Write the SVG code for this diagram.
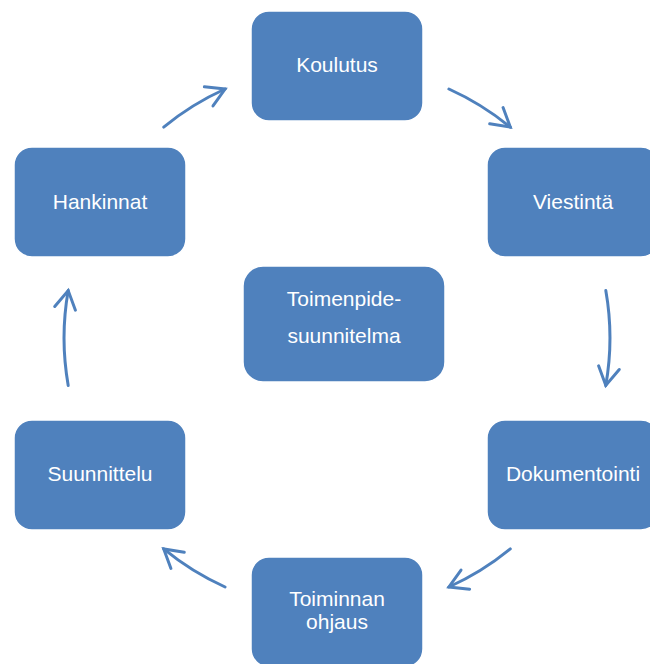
<svg xmlns="http://www.w3.org/2000/svg" width="650" height="664" viewBox="0 0 650 664">
  <style>
    .box { fill: #4F81BD; stroke: #ffffff; stroke-width: 1.5; }
    .label { font-family: "Liberation Sans", Arial, sans-serif; font-size: 21px; fill: #ffffff; text-anchor: middle; }
    .link { fill: none; stroke: #4F81BD; stroke-width: 3; stroke-linecap: round; }
  </style>
  <defs>
    <marker id="vhead" markerUnits="userSpaceOnUse" markerWidth="30" markerHeight="30" viewBox="-25 -15 30 30" refX="0" refY="0" orient="auto">
      <path d="M-18,-10.5 L0,0 L-18,10.5" fill="none" stroke="#4F81BD" stroke-width="3" stroke-linecap="round" stroke-linejoin="miter"/>
    </marker>
  </defs>

  <rect width="650" height="664" fill="#ffffff"/>

  <!-- cycle connectors: clockwise arcs on a circle (center 337,338; r 273) -->
  <g id="connectors">
    <path class="link" marker-end="url(#vhead)" d="M163.7,127.1 A273,273 0 0 1 225.1,89.0"/>
    <path class="link" marker-end="url(#vhead)" d="M448.9,89.0 A273,273 0 0 1 510.3,127.1"/>
    <path class="link" marker-end="url(#vhead)" d="M605.8,290.6 A273,273 0 0 1 605.8,385.4"/>
    <path class="link" marker-end="url(#vhead)" d="M510.3,548.9 A273,273 0 0 1 448.9,587.0"/>
    <path class="link" marker-end="url(#vhead)" d="M225.1,587.0 A273,273 0 0 1 163.7,548.9"/>
    <path class="link" marker-end="url(#vhead)" d="M68.2,385.4 A273,273 0 0 1 68.2,290.6"/>
  </g>

  <g id="koulutus">
    <rect class="box" x="251" y="11" width="172" height="110" rx="18"/>
    <text class="label" x="337" y="72">Koulutus</text>
  </g>
  <g id="viestinta">
    <rect class="box" x="487" y="147" width="172" height="110" rx="18"/>
    <text class="label" x="573" y="209">Viestintä</text>
  </g>
  <g id="dokumentointi">
    <rect class="box" x="487" y="420" width="172" height="110" rx="18"/>
    <text class="label" x="573" y="481">Dokumentointi</text>
  </g>
  <g id="toiminnan-ohjaus">
    <rect class="box" x="251" y="557" width="172" height="110" rx="18"/>
    <text class="label" x="337" y="606">Toiminnan</text>
    <text class="label" x="337" y="629">ohjaus</text>
  </g>
  <g id="suunnittelu">
    <rect class="box" x="14" y="420" width="172" height="110" rx="18"/>
    <text class="label" x="100" y="481">Suunnittelu</text>
  </g>
  <g id="hankinnat">
    <rect class="box" x="14" y="147" width="172" height="110" rx="18"/>
    <text class="label" x="100" y="209">Hankinnat</text>
  </g>
  <g id="toimenpidesuunnitelma">
    <rect class="box" x="243" y="266" width="202" height="116" rx="20"/>
    <text class="label" x="344" y="306">Toimenpide-</text>
    <text class="label" x="344" y="343">suunnitelma</text>
  </g>
</svg>
